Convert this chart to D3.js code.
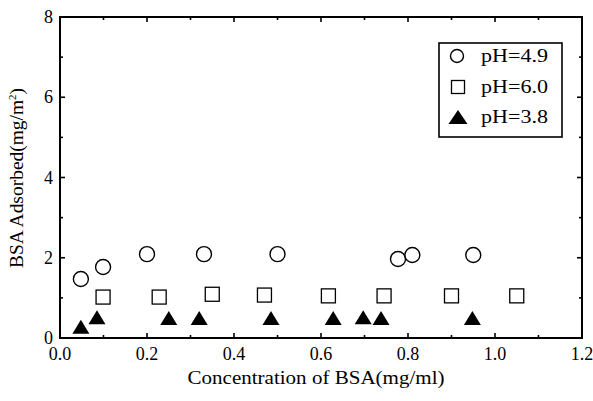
<!DOCTYPE html>
<html>
<head>
<meta charset="utf-8">
<script src="https://cdn.jsdelivr.net/npm/d3@7"></script>
<style>
  html, body { margin: 0; padding: 0; background: #fff; }
  svg { display: block; }
  text { font-family: "Liberation Serif", "Times New Roman", Times, serif; fill: #000; }
</style>
</head>
<body>
<svg id="chart" width="593" height="401"></svg>
<script>
// BSA adsorption at three pH values
const seriesNames = ["pH=4.9", "pH=6.0", "pH=3.8"];
const ph49X = [0.048, 0.099, 0.20, 0.331, 0.50, 0.777, 0.81, 0.95];
const ph49Y = [1.47, 1.77, 2.09, 2.09, 2.09, 1.97, 2.07, 2.07];
const ph60X = [0.099, 0.228, 0.35, 0.47, 0.617, 0.745, 0.90, 1.05];
const ph60Y = [1.02, 1.02, 1.09, 1.07, 1.05, 1.05, 1.05, 1.05];
const ph38X = [0.048, 0.085, 0.25, 0.32, 0.485, 0.628, 0.697, 0.738, 0.948];
const ph38Y = [0.28, 0.52, 0.50, 0.50, 0.50, 0.50, 0.52, 0.50, 0.50];
const xTicks = [0.0, 0.2, 0.4, 0.6, 0.8, 1.0, 1.2];
const yTicks = [0, 2, 4, 6, 8];
const xTitle = "Concentration of BSA(mg/ml)";

const svg = d3.select("#chart");
const m = { left: 60, right: 582, top: 17, bottom: 338 };
const x = d3.scaleLinear().domain([0, 1.2]).range([m.left, m.right]);
const y = d3.scaleLinear().domain([0, 8]).range([m.bottom, m.top]);

const g = svg.append("g");

// frame
g.append("rect")
  .attr("x", m.left).attr("y", m.top)
  .attr("width", m.right - m.left).attr("height", m.bottom - m.top)
  .attr("fill", "none").attr("stroke", "#000").attr("stroke-width", 2);

const xMinor = d3.range(0, 1.2001, 0.1);
const yMinor = d3.range(0, 8.001, 1);

function tickLen(v, step) { return Math.abs(v / step - Math.round(v / step)) < 1e-6 ? 5 : 3; }

// x ticks, bottom and top, pointing inward
xMinor.forEach(v => {
  const L = tickLen(v, 0.2);
  g.append("line").attr("x1", x(v)).attr("x2", x(v))
    .attr("y1", m.bottom).attr("y2", m.bottom - L)
    .attr("stroke", "#000").attr("stroke-width", 1.6);
  g.append("line").attr("x1", x(v)).attr("x2", x(v))
    .attr("y1", m.top).attr("y2", m.top + L)
    .attr("stroke", "#000").attr("stroke-width", 1.6);
});
// y ticks, left and right, pointing inward
yMinor.forEach(v => {
  const L = tickLen(v, 2);
  g.append("line").attr("y1", y(v)).attr("y2", y(v))
    .attr("x1", m.left).attr("x2", m.left + L)
    .attr("stroke", "#000").attr("stroke-width", 1.6);
  g.append("line").attr("y1", y(v)).attr("y2", y(v))
    .attr("x1", m.right).attr("x2", m.right - L)
    .attr("stroke", "#000").attr("stroke-width", 1.6);
});

// tick labels
g.selectAll(".xl").data(xTicks).join("text")
  .attr("x", d => x(d)).attr("y", 360)
  .attr("text-anchor", "middle").attr("font-size", 18)
  .text(d => d.toFixed(1));
g.selectAll(".yl").data(yTicks).join("text")
  .attr("x", 53).attr("y", d => y(d) + 6)
  .attr("text-anchor", "end").attr("font-size", 18)
  .text(d => d);

// axis titles
g.append("text").attr("x", 316).attr("y", 384)
  .attr("text-anchor", "middle").attr("font-size", 18)
  .attr("textLength", 257).attr("lengthAdjust", "spacingAndGlyphs")
  .text(xTitle);

const yt = g.append("text")
  .attr("transform", "translate(23,178) rotate(-90)")
  .attr("text-anchor", "middle").attr("font-size", 18)
  .attr("textLength", 180).attr("lengthAdjust", "spacingAndGlyphs");
yt.append("tspan").text("BSA Adsorbed(mg/m");
yt.append("tspan").attr("font-size", 10).attr("dy", -7).text("2");
yt.append("tspan").attr("dy", 7).text(")");

// markers
function drawCircle(sel, cx, cy, r) {
  sel.append("circle").attr("cx", cx).attr("cy", cy).attr("r", r)
    .attr("fill", "#fff").attr("stroke", "#000").attr("stroke-width", 1.4);
}
function drawSquare(sel, cx, cy, s) {
  sel.append("rect").attr("x", cx - s / 2).attr("y", cy - s / 2)
    .attr("width", s).attr("height", s)
    .attr("fill", "#fff").attr("stroke", "#000").attr("stroke-width", 1.3);
}
function drawTri(sel, cx, cy, w, h) {
  sel.append("path")
    .attr("d", `M${cx},${cy - h / 2}L${cx + w / 2},${cy + h / 2}L${cx - w / 2},${cy + h / 2}Z`)
    .attr("fill", "#000");
}

ph49X.forEach((v, i) => drawCircle(g, x(v), y(ph49Y[i]), 7.5));
ph60X.forEach((v, i) => drawSquare(g, x(v), y(ph60Y[i]), 14));
ph38X.forEach((v, i) => drawTri(g, x(v), y(ph38Y[i]), 17, 14));

// legend
const lg = g.append("g");
lg.append("rect").attr("x", 439).attr("y", 43).attr("width", 123).attr("height", 94)
  .attr("fill", "#fff").attr("stroke", "#000").attr("stroke-width", 1.6);
const rowsY = [56, 87, 117];
drawCircle(lg, 457, rowsY[0], 6.5);
drawSquare(lg, 458, rowsY[1], 13);
drawTri(lg, 458, rowsY[2], 19, 14);
seriesNames.forEach((s, i) => {
  lg.append("text").attr("x", 481).attr("y", rowsY[i] + 6)
    .attr("font-size", 18).attr("textLength", 67).attr("lengthAdjust", "spacingAndGlyphs")
    .text(s);
});
</script>
</body>
</html>
